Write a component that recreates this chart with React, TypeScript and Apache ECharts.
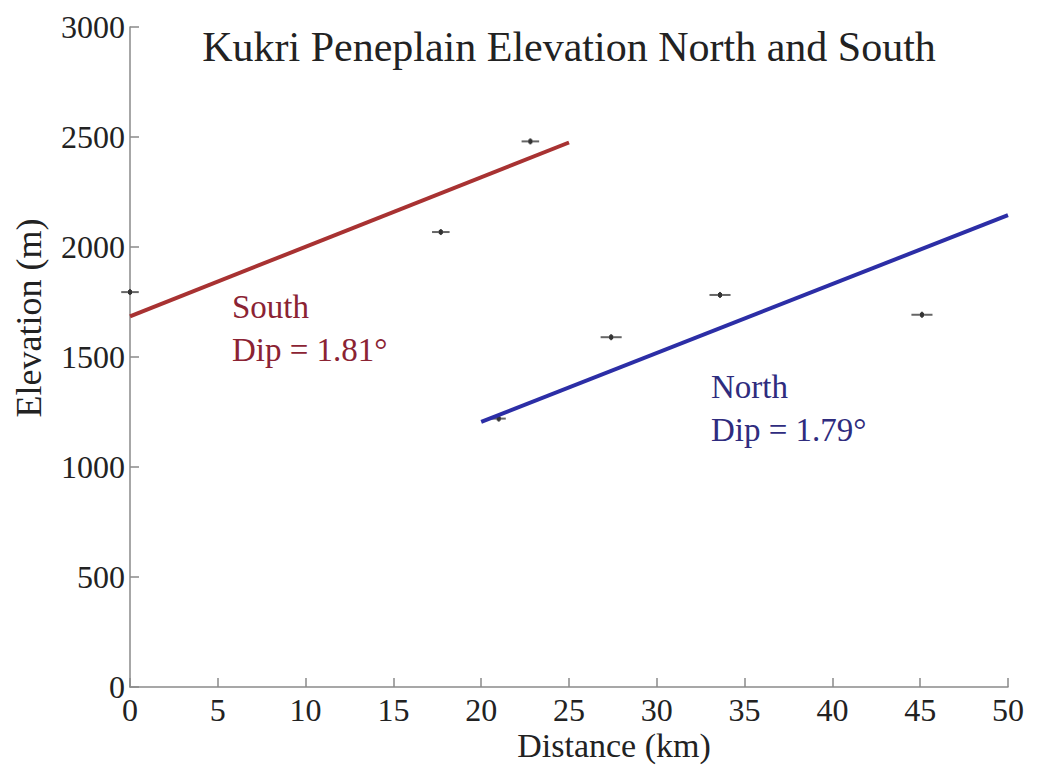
import React, { useEffect, useRef } from "react";
import * as echarts from "echarts";

// Survey points: distance along profile (km), elevation (m), horizontal uncertainty (km)
const pointDistance = [0, 17.7, 22.8, 27.4, 33.6, 45.1, 21.0];
const pointElevation = [1795, 2068, 2480, 1590, 1782, 1692, 1220];
const distanceError = [0.5, 0.5, 0.5, 0.6, 0.6, 0.6, 0.4];

// Fitted peneplain surfaces
const southFit = [
  [0, 1685],
  [25, 2475],
];
const northFit = [
  [20, 1205],
  [50, 2145],
];

const xTicks = [0, 50, 5];
const yTicks = [0, 3000, 500];

const FONT = '"Liberation Serif", "Times New Roman", serif';

export default function App() {
  const ref = useRef<HTMLDivElement>(null);

  useEffect(() => {
    if (!ref.current) return;
    const chart = echarts.init(ref.current, undefined, { renderer: "svg" });

    const pointData = pointDistance.map((d, i) => [d, pointElevation[i], distanceError[i]]);
    const axisColor = "#8a8a8a";

    chart.setOption({
      animation: false,
      backgroundColor: "#ffffff",
      textStyle: { fontFamily: FONT },
      grid: { left: 130, right: 30, top: 27, bottom: 81, outerBoundsMode: "none" },
      xAxis: {
        type: "value",
        min: xTicks[0],
        max: xTicks[1],
        interval: xTicks[2],
        axisLine: { show: true, lineStyle: { color: axisColor, width: 1.5 } },
        axisTick: { show: true, inside: true, length: 9, lineStyle: { color: axisColor, width: 1.5 } },
        axisLabel: { fontFamily: FONT, fontSize: 32, color: "#222", margin: 7, formatter: (v: number) => String(v) },
        splitLine: { show: false },
      },
      yAxis: {
        type: "value",
        min: yTicks[0],
        max: yTicks[1],
        interval: yTicks[2],
        axisLine: { show: true, lineStyle: { color: axisColor, width: 1.5 } },
        axisTick: { show: true, inside: true, length: 9, lineStyle: { color: axisColor, width: 1.5 } },
        axisLabel: { fontFamily: FONT, fontSize: 32, color: "#222", margin: 5, formatter: (v: number) => String(v) },
        splitLine: { show: false },
      },
      series: [
        {
          type: "custom",
          name: "points",
          clip: false,
          z: 1,
          data: pointData,
          renderItem: (params: any, api: any) => {
            const x = api.value(0);
            const y = api.value(1);
            const e = api.value(2);
            const c = api.coord([x, y]);
            const l = api.coord([x - e, y]);
            const r = api.coord([x + e, y]);
            return {
              type: "group",
              children: [
                {
                  type: "line",
                  shape: { x1: l[0], y1: l[1], x2: r[0], y2: r[1] },
                  style: { stroke: "#666", lineWidth: 2 },
                },
                {
                  type: "line",
                  shape: { x1: c[0], y1: c[1] - 3, x2: c[0], y2: c[1] + 3 },
                  style: { stroke: "#444", lineWidth: 2 },
                },
                {
                  type: "rect",
                  shape: { x: c[0] - 2, y: c[1] - 2, width: 4, height: 4 },
                  style: { fill: "#333" },
                },
              ],
            };
          },
        },
        {
          type: "line",
          name: "South",
          data: southFit,
          symbol: "none",
          z: 3,
          lineStyle: { color: "#a83232", width: 4 },
        },
        {
          type: "line",
          name: "North",
          data: northFit,
          symbol: "none",
          z: 3,
          lineStyle: { color: "#2c2ea6", width: 4 },
        },
      ],
      graphic: [
        {
          type: "text",
          x: 569,
          y: 47,
          style: {
            text: "Kukri Peneplain Elevation North and South",
            fontFamily: FONT,
            fontSize: 42,
            fill: "#222",
            align: "center",
            verticalAlign: "middle",
          },
        },
        {
          type: "text",
          x: 614,
          y: 745,
          style: {
            text: "Distance (km)",
            fontFamily: FONT,
            fontSize: 34,
            fill: "#222",
            align: "center",
            verticalAlign: "middle",
          },
        },
        {
          type: "text",
          x: 29,
          y: 318,
          rotation: Math.PI / 2,
          style: {
            text: "Elevation (m)",
            fontFamily: FONT,
            fontSize: 36,
            fill: "#222",
            align: "center",
            verticalAlign: "middle",
          },
        },
        {
          type: "text",
          x: 232,
          y: 307,
          style: { text: "South", fontFamily: FONT, fontSize: 33, fill: "#8b2333", verticalAlign: "middle" },
        },
        {
          type: "text",
          x: 232,
          y: 350,
          style: { text: "Dip = 1.81°", fontFamily: FONT, fontSize: 33, fill: "#8b2333", verticalAlign: "middle" },
        },
        {
          type: "text",
          x: 711,
          y: 387,
          style: { text: "North", fontFamily: FONT, fontSize: 33, fill: "#2f2c7e", verticalAlign: "middle" },
        },
        {
          type: "text",
          x: 711,
          y: 430,
          style: { text: "Dip = 1.79°", fontFamily: FONT, fontSize: 33, fill: "#2f2c7e", verticalAlign: "middle" },
        },
      ],
    });

    return () => chart.dispose();
  }, []);

  return <div ref={ref} style={{ width: 1038, height: 768, position: "absolute", left: 0, top: 0 }} />;
}
